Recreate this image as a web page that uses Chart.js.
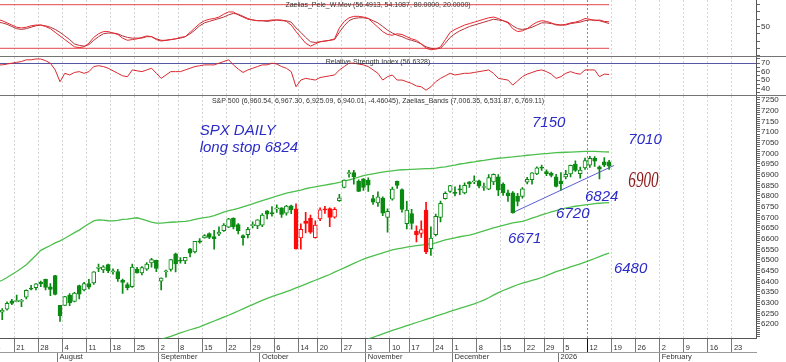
<!DOCTYPE html>
<html>
<head>
<meta charset="utf-8">
<title>SPX daily</title>
<script src="https://cdn.jsdelivr.net/npm/chart.js@4.4.1/dist/chart.umd.min.js"></script>
<style>
  html, body { margin: 0; padding: 0; background: #fff; }
  #wrap { position: relative; width: 786px; height: 362px; overflow: hidden; background: #fff; }
  #wrap canvas { position: absolute; left: 0; }
  .sep { position: absolute; left: 0; width: 786px; height: 1px; background: #747474; }
</style>
</head>
<body>
<div id="wrap">
  <canvas id="pele" width="786" height="56" style="top:0"></canvas>
  <div class="sep" style="top:56px"></div>
  <canvas id="rsi" width="786" height="38" style="top:57px"></canvas>
  <div class="sep" style="top:95px"></div>
  <canvas id="price" width="786" height="266" style="top:96px"></canvas>
</div>
<script>
// sessions on the time axis (bond-market calendar), future weekdays follow the last bar
const firstDay = '2025-07-14';
const lastDay = '2026-02-27';
const closedDays = ['2025-09-01', '2025-10-13', '2025-11-11', '2025-11-27', '2025-12-25', '2026-01-01'];

// S&P 500 daily bars, first bar on candleStart
const candleStart = '2025-07-16';
const open = [6256, 6270, 6308,
  6305, 6306, 6326, 6366, 6370,  6397, 6409, 6374, 6427, 6287,  6287, 6336, 6306, 6380, 6360,
  6390, 6392, 6461, 6453, 6478,  6445, 6446, 6406, 6385, 6375,  6457, 6440, 6457, 6486, 6499,
  6401, 6445, 6456, 6529,  6498, 6496, 6552, 6538, 6590,  6603, 6624, 6610, 6621, 6638,
  6654, 6696, 6666, 6614, 6619,  6661, 6660, 6663, 6731, 6722,  6740, 6745, 6720, 6754, 6740,
  6603, 6683, 6695, 6605,  6692, 6736, 6741, 6701, 6778,  6840, 6905, 6910, 6870, 6880,
  6875, 6788, 6768, 6790, 6700,  6785, 6870, 6830, 6670,  6717, 6634, 6625, 6734, 6553,
  6619, 6700, 6787, 6822,  6813, 6830, 6815, 6866, 6866,  6871, 6840, 6832, 6866, 6890,
  6856, 6815, 6815, 6800, 6798,  6865, 6876, 6904, 6931,  6915, 6906, 6890, 6870,
  6890, 6903, 6950, 6905, 6932,  6944, 6977, 6937, 6960, 6960.54];
const high = [6272, 6304, 6316,
  6336, 6316, 6360, 6381, 6390,  6401, 6410, 6390, 6428, 6288,  6330, 6343, 6349, 6382, 6395,
  6409, 6446, 6481, 6474, 6481,  6459, 6456, 6410, 6393, 6481,  6466, 6469, 6488, 6508, 6500,
  6416, 6453, 6503, 6533,  6511, 6513, 6555, 6588, 6600,  6619, 6627, 6639, 6656, 6671,
  6695, 6698, 6671, 6618, 6653,  6679, 6689, 6718, 6732, 6750,  6759, 6746, 6756, 6758, 6763,
  6670, 6724, 6710, 6684,  6745, 6752, 6744, 6746, 6808,  6876, 6920, 6920, 6876, 6882,
  6885, 6803, 6819, 6796, 6740,  6842, 6870, 6834, 6775,  6738, 6660, 6684, 6770, 6655,
  6715, 6776, 6820, 6850,  6843, 6851, 6862, 6867, 6895,  6875, 6860, 6900, 6904, 6900,
  6862, 6828, 6821, 6812, 6840,  6888, 6910, 6937, 6945,  6923, 6912, 6901, 6910,
  6920, 6945, 6965, 6935, 6978,  6986, 6985, 6941, 6980, 6967.30];
const low = [6220, 6265, 6290,
  6303, 6281, 6317, 6360, 6360,  6375, 6360, 6333, 6336, 6212,  6287, 6286, 6303, 6318, 6355,
  6364, 6385, 6445, 6441, 6441,  6433, 6399, 6343, 6360, 6371,  6438, 6430, 6451, 6466, 6445,
  6360, 6419, 6448, 6444,  6485, 6483, 6515, 6533, 6579,  6602, 6600, 6551, 6614, 6634,
  6651, 6646, 6622, 6569, 6604,  6650, 6647, 6656, 6693, 6705,  6723, 6699, 6710, 6717, 6551,
  6551, 6627, 6625, 6602,  6684, 6718, 6656, 6696, 6775,  6838, 6888, 6856, 6820, 6826,
  6822, 6761, 6751, 6708, 6631,  6781, 6835, 6724, 6646,  6644, 6585, 6606, 6530, 6521,
  6613, 6679, 6785, 6817,  6800, 6806, 6810, 6840, 6858,  6838, 6826, 6830, 6853, 6801,
  6803, 6775, 6720, 6753, 6790,  6857, 6855, 6900, 6920,  6895, 6890, 6843, 6827,
  6880, 6890, 6915, 6883, 6924,  6934, 6939, 6880, 6937, 6925.09];
const close = [6264, 6297, 6297,
  6305, 6309, 6358, 6363, 6388,  6389, 6371, 6362, 6339, 6238,  6329, 6299, 6345, 6340, 6389,
  6373, 6445, 6466, 6468, 6449,  6449, 6411, 6395, 6370, 6467,  6439, 6465, 6481, 6502, 6460,
  6415, 6448, 6502, 6482,  6495, 6512, 6532, 6587, 6584,  6615, 6606, 6600, 6631, 6664,
  6693, 6656, 6638, 6605, 6644,  6661, 6688, 6711, 6715, 6716,  6740, 6714, 6753, 6735, 6552,
  6644, 6671, 6630, 6664,  6735, 6735, 6699, 6738, 6791,  6875, 6908, 6890, 6822, 6840,
  6851, 6771, 6796, 6720, 6728,  6832, 6850, 6737, 6734,  6672, 6617, 6642, 6538, 6603,
  6705, 6766, 6813, 6849,  6812, 6829, 6850, 6857, 6870,  6846, 6840, 6886, 6901, 6827,
  6816, 6800, 6721, 6775, 6834,  6878, 6909, 6932, 6930,  6905, 6896, 6845, 6858,
  6902, 6944, 6920, 6921, 6966,  6977, 6963, 6926, 6944, 6940.01];
// bars painted red by the system
const redDays = ['2025-10-10', '2025-10-14', '2025-10-15', '2025-10-16', '2025-10-17', '2025-10-20',
  '2025-10-21', '2025-10-22', '2025-10-23', '2025-11-18', '2025-11-19', '2025-11-20'];

// Zaelias bands
const upperStart = '2025-07-15';
const bandUpper = [6396, 6405, 6418, 6432, 6446, 6461, 6478, 6500, 6522, 6545,
  6557, 6568, 6580, 6590, 6602, 6615, 6628, 6640, 6656, 6670,
  6683, 6688, 6687, 6684, 6683, 6686, 6690, 6692, 6695, 6698,
  6692, 6685, 6678, 6673, 6673, 6675, 6677, 6678, 6680, 6681,
  6685, 6690, 6695, 6699, 6702, 6708, 6716, 6724, 6731, 6736,
  6742, 6749, 6756, 6763, 6771, 6778, 6785, 6792, 6800, 6806,
  6813, 6818, 6823, 6828, 6834, 6839, 6843, 6847, 6851, 6855,
  6859, 6864, 6868, 6875, 6881, 6888, 6896, 6900, 6904, 6908,
  6912, 6915, 6918, 6921, 6923, 6924, 6925, 6926, 6927, 6928,
  6929, 6931, 6934, 6937, 6941, 6945, 6950, 6953, 6957, 6960,
  6964, 6967, 6971, 6974, 6977, 6979, 6981, 6983, 6986, 6988,
  6991, 6993, 6995, 6997, 6999, 7001, 7003, 7004, 7005, 7006,
  7007, 7008, 7009, 7009, 7009, 7008, 7007, 7006.35];
const midStart = '2025-08-29';
const bandMid = [6118, 6128, 6135, 6142, 6150, 6158, 6166, 6173, 6180, 6187,
  6196, 6205, 6214, 6223, 6232, 6241, 6251, 6261, 6271, 6281,
  6291, 6301, 6311, 6320, 6328, 6336, 6344, 6352, 6360, 6369,
  6378, 6387, 6396, 6405, 6414, 6423, 6432, 6443, 6453, 6463,
  6474, 6484, 6494, 6504, 6512, 6519, 6526, 6533, 6540, 6547,
  6552, 6556, 6560, 6564, 6567, 6570, 6573, 6575, 6580, 6587,
  6594, 6599, 6604, 6609, 6613, 6617, 6622, 6629, 6636, 6643,
  6650, 6656, 6662, 6668, 6674, 6678, 6681, 6688, 6696, 6703,
  6711, 6718, 6726, 6732, 6738, 6743, 6748, 6752, 6755, 6758,
  6761, 6764, 6766, 6768, 6769.11];
const lowStart = '2025-11-03';
const bandLow = [6130, 6137, 6146, 6154, 6162, 6170, 6177, 6184, 6192, 6199,
  6207, 6214, 6222, 6229, 6237, 6244, 6251, 6259, 6266, 6273,
  6280, 6287, 6294, 6303, 6312, 6323, 6335, 6347, 6357, 6366,
  6375, 6384, 6392, 6398, 6404, 6410, 6418, 6427, 6436, 6445,
  6452, 6460, 6468, 6475, 6482, 6490, 6498, 6507, 6516, 6525, 6531.87];
const trendLine = [['2025-12-17', 6722], ['2026-01-19', 6943]];

// Zaelias_Pele_W.Mov oscillator
const peleStart = '2025-07-15';
const peleFast = [60, 58, 55, 52, 49, 48, 49, 51, 52, 52, 50, 47, 42, 37, 32, 27, 22, 21, 22, 27,
  35, 40, 43, 43, 41, 39, 34, 31, 32, 33, 35, 37, 36, 32, 30, 31, 32, 33, 35, 36,
  42, 48, 54, 58, 60, 61, 63, 67, 70, 70, 66, 63, 60, 59, 58, 58, 58, 59, 59, 59,
  57, 52, 43, 35, 27, 23, 26, 29, 30, 31, 33, 48, 57, 62, 64, 64, 63, 61, 55, 49,
  43, 39, 38, 40, 39, 36, 33, 31, 26, 20, 18, 19, 22, 32, 42, 46, 49, 52, 54, 56,
  58, 60, 62, 63, 61, 58, 55, 47, 43, 44, 47, 52, 56, 58, 57, 55, 52, 52, 53, 55,
  56, 58, 61, 60, 58, 59, 57, 56.49];
const peleSlow = [56, 55, 53, 50, 47, 46, 47, 49, 51, 52, 51, 49, 46, 42, 37, 32, 26, 24, 23, 25,
  31, 36, 40, 41, 41, 40, 37, 35, 34, 34, 34, 36, 36, 33, 31, 31, 32, 33, 34, 36,
  40, 45, 51, 55, 57, 59, 61, 63, 66, 68, 67, 64, 61, 59, 58, 58, 57, 58, 59, 58,
  58, 56, 48, 42, 35, 29, 28, 29, 30, 31, 32, 42, 51, 58, 61, 62, 62, 61, 58, 55,
  50, 45, 41, 38, 36, 33, 31, 29, 26, 22, 20, 19, 20, 27, 35, 40, 44, 47, 50, 52,
  54, 56, 58, 60, 59, 58, 56, 51, 47, 46, 47, 49, 52, 55, 55, 54, 53, 52, 52, 54,
  55, 56, 58, 59, 59, 58, 56, 54.11];
const peleLevels = [80, 20];

// Relative Strength Index
const rsiStart = '2025-07-15';
const rsi = [68, 68, 69, 70, 71, 72, 74, 74, 75, 75, 73, 70, 62, 48, 58, 56, 59, 60, 58, 60,
  66, 67, 66, 64, 61, 58, 55, 54, 62, 61, 60, 62, 64, 58, 52, 56, 60, 60, 60, 62,
  64, 66, 67, 68, 68, 68, 70, 72, 74, 68, 63, 59, 62, 64, 66, 68, 68, 70, 69, 66,
  64, 60, 42, 50, 52, 51, 50, 53, 54, 55, 56, 62, 66, 70, 70, 69, 68, 66, 62, 58,
  50, 54, 56, 50, 50, 48, 46, 43, 42, 38, 42, 48, 52, 55, 58, 56, 57, 58, 58, 59,
  60, 61, 62, 58, 52, 51, 50, 44, 49, 54, 57, 59, 61, 62, 60, 57, 52, 54, 58, 60,
  58, 57, 62, 62, 62, 54, 57, 56.63];
const rsiLevel = 70;

// axis labels
const weekStarts = ['2025-07-14', '2025-07-21', '2025-07-28', '2025-08-04', '2025-08-11', '2025-08-18',
  '2025-08-25', '2025-09-02', '2025-09-08', '2025-09-15', '2025-09-22', '2025-09-29', '2025-10-06',
  '2025-10-14', '2025-10-20', '2025-10-27', '2025-11-03', '2025-11-10', '2025-11-17', '2025-11-24',
  '2025-12-01', '2025-12-08', '2025-12-15', '2025-12-22', '2025-12-29', '2026-01-05', '2026-01-12',
  '2026-01-19', '2026-01-26', '2026-02-02', '2026-02-09', '2026-02-16', '2026-02-23'];
const monthStarts = [['2025-08-01', 'August'], ['2025-09-02', 'September'], ['2025-10-01', 'October'],
  ['2025-11-03', 'November'], ['2025-12-01', 'December'], ['2026-01-02', '2026'], ['2026-02-02', 'February']];
const markDay = '2026-01-12';
const priceLabels = [7250, 7200, 7150, 7100, 7050, 7000, 6950, 6900, 6850, 6800, 6750, 6700,
  6650, 6600, 6550, 6500, 6450, 6400, 6350, 6300, 6250, 6200];
const rsiLabels = [70, 60, 50, 40];
const peleLabels = [50];

// hand written notes on the price pane
const notes = [
  { text: 'SPX DAILY', day: '2025-09-12', price: 7105 },
  { text: 'long stop 6824', day: '2025-09-12', price: 7025 },
  { text: '7150', day: '2025-12-23', price: 7142 },
  { text: '7010', day: '2026-01-22', price: 7062 },
  { text: '6900', day: '2026-01-22', price: 6870, big: true },
  { text: '6824', day: '2026-01-09', price: 6795 },
  { text: '6720', day: '2025-12-31', price: 6715 },
  { text: '6671', day: '2025-12-16', price: 6600 },
  { text: '6480', day: '2026-01-19', price: 6460 }
];

const GREEN = '#0b8a12';
const RED = '#ff0a0a';
const BAND = '#4cbf4c';
const X_MIN = 1.54;
const X_MAX = 158.5;

const days = [];
for (let d = new Date(firstDay + 'T00:00:00Z'); d <= new Date(lastDay + 'T00:00:00Z'); d.setUTCDate(d.getUTCDate() + 1)) {
  const s = d.toISOString().slice(0, 10);
  const wd = d.getUTCDay();
  if (wd !== 0 && wd !== 6 && !closedDays.includes(s)) days.push(s);
}
const slot = day => days.indexOf(day);
const series = (start, values) => values.map((v, i) => ({ x: slot(start) + i, y: v }));

Chart.defaults.font.family = '"Liberation Sans", Arial, sans-serif';
Chart.defaults.font.size = 8;
Chart.defaults.color = '#333';
Chart.defaults.animation = false;
Chart.defaults.plugins.legend.display = false;
Chart.defaults.plugins.tooltip.enabled = false;

const weekTickValue = d => slot(d) - 0.5;
const weekGridColor = ctx => (ctx.tick && ctx.tick.value === weekTickValue(markDay)) ? '#8a8a8a' : '#d4d4d4';
const weekTickColor = ctx => (ctx.tick && ctx.tick.value === weekTickValue(markDay)) ? '#111' : '#7a7a7a';

function paneTimeAxis() {
  return {
    type: 'linear', min: X_MIN, max: X_MAX, bounds: 'data', offset: false,
    afterBuildTicks: s => { s.ticks = weekStarts.map(d => ({ value: weekTickValue(d) })); },
    afterFit: s => { s.height = 0; s.paddingLeft = 0; s.paddingRight = 0; },
    ticks: { display: false },
    grid: { color: weekGridColor, drawTicks: false, offset: false, borderDash: [2, 2] },
    border: { display: false, dash: [2, 2] }
  };
}

function rightAxis(min, max, tickValues, labels, grid) {
  return {
    type: 'linear', position: 'right', min, max, bounds: 'data',
    afterBuildTicks: s => { s.ticks = tickValues.map(v => ({ value: v })); },
    afterFit: s => { s.width = 30; s.paddingTop = 0; s.paddingBottom = 0; },
    ticks: { autoSkip: false, padding: 1, color: '#333', font: { size: 8 },
      callback: v => labels.includes(v) ? String(v) : '' },
    grid: Object.assign({ drawOnChartArea: false, tickLength: 4, tickColor: '#666' }, grid || {}),
    border: { color: '#555' }
  };
}

function header(text) {
  return {
    id: 'header',
    afterDraw(chart) {
      const { ctx, chartArea } = chart;
      ctx.save();
      ctx.font = '7px "Liberation Sans", Arial, sans-serif';
      ctx.fillStyle = '#333';
      ctx.textAlign = 'center';
      ctx.textBaseline = 'middle';
      ctx.fillText(text, (chartArea.left + chartArea.right) / 2, chartArea.top + 5.5);
      ctx.restore();
    }
  };
}

const notesPlugin = {
  id: 'notes',
  afterDatasetsDraw(chart) {
    const { ctx, scales: { x, y } } = chart;
    notes.forEach(n => {
      ctx.save();
      ctx.translate(x.getPixelForValue(slot(n.day)), y.getPixelForValue(n.price));
      if (n.big) {
        ctx.font = 'italic 24px "Liberation Serif", serif';
        ctx.fillStyle = '#8e1b1b';
        ctx.scale(0.63, 1);
      } else {
        ctx.font = 'italic 15px "Liberation Sans", Arial, sans-serif';
        ctx.fillStyle = '#2b2bc8';
      }
      ctx.textBaseline = 'middle';
      ctx.fillText(n.text, 0, 0);
      ctx.restore();
    });
  }
};

const baseOptions = {
  responsive: false,
  devicePixelRatio: 1,
  events: [],
  layout: { padding: 0 },
  elements: { point: { radius: 0 }, line: { borderWidth: 1 } }
};

// top pane: oscillator
const peleEnd = slot(peleStart) + peleFast.length - 1;
new Chart(document.getElementById('pele'), {
  type: 'line',
  data: {
    datasets: [
      { data: series(peleStart, peleFast), borderColor: '#e8262e', borderWidth: 1 },
      { data: series(peleStart, peleSlow), borderColor: '#b0343a', borderWidth: 1 },
      ...peleLevels.map(v => ({
        data: [{ x: slot(peleStart), y: v }, { x: peleEnd, y: v }],
        borderColor: '#e0474b', borderWidth: 1
      }))
    ]
  },
  options: Object.assign({}, baseOptions, {
    scales: {
      x: paneTimeAxis(),
      y: rightAxis(9.41, 86.47, [10, 20, 30, 40, 50, 60, 70, 80], peleLabels)
    }
  }),
  plugins: [header('Zaelias_Pele_W.Mov (56.4913, 54.1087, 80.0000, 20.0000)')]
});

// middle pane: RSI
new Chart(document.getElementById('rsi'), {
  type: 'line',
  data: {
    datasets: [{ data: series(rsiStart, rsi), borderColor: '#d9282e', borderWidth: 1 }]
  },
  options: Object.assign({}, baseOptions, {
    scales: {
      x: paneTimeAxis(),
      y: rightAxis(32.27, 77.35, [35, 40, 45, 50, 55, 60, 65, 70, 75], rsiLabels, {
        drawOnChartArea: true,
        color: ctx => (ctx.tick && ctx.tick.value === rsiLevel) ? '#5656a6' : 'rgba(0,0,0,0)'
      })
    }
  }),
  plugins: [header('Relative Strength Index (56.6328)')]
});

// price pane: candles, bands, trend line
const bodies = [], wicks = [], barColor = [], barFill = [];
open.forEach((o, i) => {
  const x = slot(candleStart) + i;
  const col = redDays.includes(days[x]) ? RED : GREEN;
  bodies.push({ x, y: [o, close[i]] });
  wicks.push({ x, y: [low[i], high[i]] });
  barColor.push(col);
  barFill.push(close[i] < o ? col : '#ffffff');
});

const priceTicks = [];
for (let v = 6140; v <= 7260; v += 10) priceTicks.push(v);

new Chart(document.getElementById('price'), {
  type: 'line',
  data: {
    datasets: [
      { type: 'bar', data: bodies, backgroundColor: barFill, borderColor: barColor, borderWidth: 1,
        borderSkipped: false, barThickness: 4, minBarLength: 1, grouped: false },
      { type: 'bar', data: wicks, backgroundColor: barColor, borderWidth: 0, barThickness: 1, grouped: false },
      { data: trendLine.map(p => ({ x: slot(p[0]), y: p[1] })), borderColor: '#5b5bd6', borderWidth: 1 },
      { data: series(upperStart, bandUpper), borderColor: BAND, borderWidth: 1.3 },
      { data: series(midStart, bandMid), borderColor: BAND, borderWidth: 1.3 },
      { data: series(lowStart, bandLow), borderColor: BAND, borderWidth: 1.3 }
    ]
  },
  options: Object.assign({}, baseOptions, {
    scales: {
      x: {
        type: 'linear', position: 'bottom', weight: 0, min: X_MIN, max: X_MAX, bounds: 'data', offset: false,
        afterBuildTicks: s => { s.ticks = weekStarts.map(d => ({ value: weekTickValue(d) })); },
        afterFit: s => { s.height = 14; s.paddingLeft = 0; s.paddingRight = 0; },
        ticks: { autoSkip: false, maxRotation: 0, minRotation: 0, align: 'start', labelOffset: 2, padding: -9,
          color: '#333', font: { size: 7.5 }, callback: (v, i) => String(Number(weekStarts[i].slice(8))) },
        grid: { color: weekGridColor, tickColor: weekTickColor, tickLength: 14, offset: false, borderDash: [2, 2] },
        border: { color: '#555', dash: [2, 2] }
      },
      x2: {
        type: 'linear', position: 'bottom', weight: 1, min: X_MIN, max: X_MAX, bounds: 'data', offset: false,
        afterBuildTicks: s => { s.ticks = monthStarts.map(m => ({ value: weekTickValue(m[0]) })); },
        afterFit: s => { s.height = 9.5; s.paddingLeft = 0; s.paddingRight = 0; },
        ticks: { autoSkip: false, maxRotation: 0, minRotation: 0, align: 'start', labelOffset: 2, padding: -9.2,
          color: '#333', font: { size: 7.5 }, callback: (v, i) => monthStarts[i][1] },
        grid: { drawOnChartArea: false, tickLength: 9.5, tickColor: '#7a7a7a', offset: false },
        border: { color: '#9a9a9a' }
      },
      y: rightAxis(6132.0, 7268.75, priceTicks, priceLabels)
    }
  }),
  plugins: [notesPlugin,
    header('S&P 500 (6,960.54, 6,967.30, 6,925.09, 6,940.01, -4.46045), Zaelias_Bands (7,006.35, 6,531.87, 6,769.11)')]
});
</script>
</body>
</html>
